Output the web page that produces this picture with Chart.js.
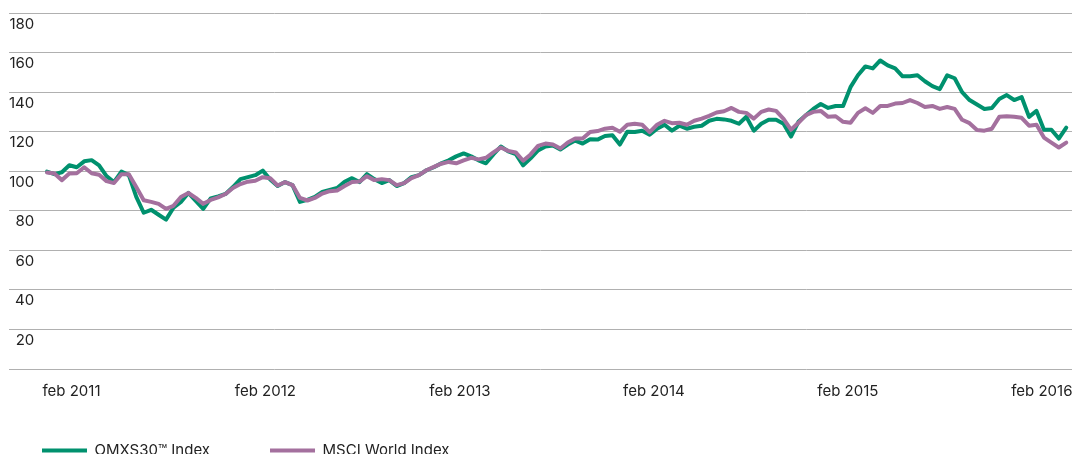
<!DOCTYPE html>
<html>
<head>
<meta charset="utf-8">
<script src="https://cdn.jsdelivr.net/npm/chart.js@4.4.1/dist/chart.umd.min.js"></script>
<style>
  html, body { margin: 0; padding: 0; background: #ffffff; overflow: hidden; }
  #wrap { position: relative; width: 1072px; height: 494px; }
</style>
</head>
<body>
<div id="wrap"><canvas id="chart"></canvas></div>
<script>
// ---- data ----
const seriesNames = ['OMXS30\u2122 Index', 'MSCI World Index'];
const startDate = '2010-12-31';   // first observation
const stepDays = 14;              // one observation every two weeks

const omxs30 = [
  99.8, 98.5, 99.5, 103, 102, 105, 105.6, 103, 97.5, 94.5,
  99.8, 98, 87, 79, 80.5, 78, 75.5, 81.5, 84.5, 89,
  85, 81, 86.3, 87.3, 88.5, 92, 96, 97, 98, 100.3,
  95.8, 92.5, 94.5, 93, 84.5, 85.5, 87, 89.5, 90.5, 91.5,
  94.7, 96.5, 94.5, 98.5, 96, 94, 95.5, 92.5, 94, 97,
  98, 100.5, 102, 104, 105.5, 107.5, 109, 107.5, 105.5, 104,
  108.5, 112.5, 110, 108.7, 103, 106.5, 110.5, 112.5, 113, 111,
  113.5, 115.5, 114, 116.2, 116, 117.8, 118.2, 113.5, 120, 119.8,
  120.5, 118.5, 121.5, 123.5, 120.5, 123, 121.5, 122.5, 123, 125.5,
  126.5, 126.2, 125.5, 124, 127.5, 120.5, 124, 126, 126, 124,
  117.5, 125, 128.3, 131.5, 134, 132, 133, 133, 142.5, 148.5,
  153, 152, 156, 153.5, 152, 148, 148, 148.5, 145.5, 143,
  141.5, 148.5, 147, 140, 136, 133.7, 131.5, 132, 136.5, 138.5,
  136, 137.5, 127.5, 130.5, 121, 121, 116.5, 122
];

const msciWorld = [
  99.3, 98.8, 95.5, 98.8, 99, 102, 99, 98.2, 95, 94,
  98.5, 98.5, 92, 85.3, 84.5, 83.5, 81, 82.5, 87, 89,
  86.5, 83.5, 85.5, 86.8, 88.5, 91.5, 93.5, 94.7, 95.2, 97,
  96.5, 92.8, 94.5, 93, 86.5, 85.2, 86.5, 88.7, 89.9, 90.3,
  92.5, 94.5, 94.8, 97.5, 95.5, 96, 95.5, 93, 94, 96.5,
  98, 100.5, 102.2, 103.8, 104.7, 104, 105.5, 106.8, 106, 106.8,
  109.5, 112, 110.3, 109.5, 105.3, 108.5, 112.8, 114, 113.5, 111.5,
  114.5, 116.5, 116.5, 119.8, 120.3, 121.5, 122, 120, 123.5, 124,
  123.5, 119.8, 123.5, 125.5, 124.3, 124.5, 123.5, 125.5, 126.6, 128,
  129.7, 130.3, 132, 130, 129.5, 126.6, 130, 131.2, 130.5, 126.5,
  121, 124.5, 128.4, 130, 130.5, 127.5, 127.8, 125, 124.5, 129.5,
  131.8, 129.5, 133, 133, 134.2, 134.5, 136, 134.5, 132.5, 133,
  131.5, 132.5, 131.5, 126, 124.3, 120.8, 120.5, 121.5, 127.5, 127.8,
  127.5, 127, 123, 123.5, 117, 114.5, 112, 114.5
];

const tickLabels = ['feb 2011', 'feb 2012', 'feb 2013', 'feb 2014', 'feb 2015', 'feb 2016'];
const tickDates  = ['2011-02-15', '2012-02-15', '2013-02-15', '2014-02-15', '2015-02-15', '2016-02-15'];

// ---- derived structures ----
const DAY = 86400000;
const t0 = Date.parse(startDate);
const dayOf = d => Math.round((Date.parse(d) - t0) / DAY);
const categories = omxs30.map((_, i) => {
  const d = new Date(t0 + i * stepDays * DAY);
  return d.toISOString().slice(0, 10);
});
const tickDays = tickDates.map(dayOf);
const toPoints = arr => arr.map((v, i) => ({ x: dayOf(categories[i]), y: v }));

const GREEN = '#00916e';
const PURPLE = '#a4709e';
const TEXT = '#222222';
const FONT = { family: 'Inter, "Noto Sans", sans-serif', size: 15 };

const legendPlace = {
  id: 'legendPlace',
  afterLayout(chart) {
    const lg = chart.legend;
    if (!lg) return;
    const p = lg.options.labels.padding;
    const dx = 42 - (lg.left + p);
    lg.left += dx; lg.right += dx;
    const dy = (chart.chartArea.bottom + 74) - (lg.top + p);
    lg.top += dy; lg.bottom += dy;
  }
};

new Chart(document.getElementById('chart'), {
  type: 'line',
  data: {
    datasets: [
      {
        label: seriesNames[0],
        data: toPoints(omxs30),
        borderColor: GREEN,
        backgroundColor: GREEN,
        borderWidth: 4,
        pointRadius: 0,
        tension: 0,
        borderJoinStyle: 'round',
        borderCapStyle: 'round',
        order: 1
      },
      {
        label: seriesNames[1],
        data: toPoints(msciWorld),
        borderColor: PURPLE,
        backgroundColor: PURPLE,
        borderWidth: 4,
        pointRadius: 0,
        tension: 0,
        borderJoinStyle: 'round',
        borderCapStyle: 'round',
        order: 0
      }
    ]
  },
  plugins: [legendPlace],
  options: {
    responsive: true,
    maintainAspectRatio: false,
    animation: false,
    layout: { padding: { left: 9, right: 0, top: 13, bottom: 0 } },
    plugins: {
      tooltip: { enabled: false },
      legend: {
        position: 'bottom',
        align: 'start',
        labels: {
          boxWidth: 45,
          boxHeight: 4,
          padding: 60,
          color: TEXT,
          font: FONT,
          sort: (a, b) => a.datasetIndex - b.datasetIndex,
          generateLabels: (chart) => {
            const items = Chart.defaults.plugins.legend.labels.generateLabels(chart);
            return items.map(it => Object.assign(it, { lineWidth: 0, fillStyle: it.strokeStyle }));
          }
        }
      }
    },
    scales: {
      x: {
        type: 'linear',
        min: -71.5,
        max: 1928.8,
        grid: { display: false },
        border: { display: false },
        afterBuildTicks: (s) => { s.ticks = tickDays.map(v => ({ value: v })); },
        afterFit: (s) => { s.height = 40; s.paddingLeft = 0; s.paddingRight = 0; },
        ticks: {
          autoSkip: false,
          maxRotation: 0,
          padding: 5,
          color: TEXT,
          font: FONT,
          callback: (v, i) => tickLabels[i]
        }
      },
      y: {
        min: 0,
        max: 180,
        grid: { color: '#b0b0b0', lineWidth: 1, drawTicks: false },
        border: { display: false },
        afterFit: (s) => { s.width = 0; },
        ticks: {
          stepSize: 20,
          mirror: true,
          crossAlign: 'far',
          padding: 0,
          labelOffset: 11,
          color: TEXT,
          font: FONT,
          callback: (v) => (v === 0 ? '' : String(v))
        }
      }
    }
  }
});
</script>
</body>
</html>
